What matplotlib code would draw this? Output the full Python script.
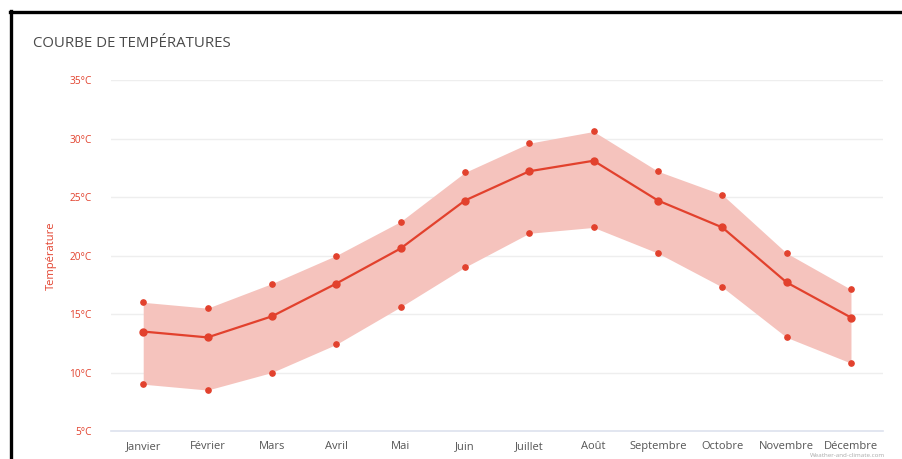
import matplotlib
matplotlib.use("Agg")
import matplotlib.pyplot as plt
from matplotlib.lines import Line2D

plt.rcParams["font.family"] = ["Open Sans", "DejaVu Sans"]

# données
mois = ["Janvier", "Février", "Mars", "Avril", "Mai", "Juin",
        "Juillet", "Août", "Septembre", "Octobre", "Novembre", "Décembre"]
temp_max = [16.0, 15.5, 17.6, 20.0, 22.9, 27.1, 29.6, 30.6, 27.2, 25.2, 20.2, 17.1]
temp_moy = [13.5, 13.0, 14.8, 17.6, 20.6, 24.7, 27.2, 28.1, 24.7, 22.4, 17.7, 14.7]
temp_min = [9.0, 8.5, 10.0, 12.4, 15.6, 19.0, 21.9, 22.4, 20.2, 17.3, 13.0, 10.8]
y_ticks = [5, 10, 15, 20, 25, 30, 35]

rouge = "#e2412d"
fond = "#f5c3bd"

fig = plt.figure(figsize=(9.02, 4.59), dpi=100)
ax = fig.add_axes([0.1231, 0.061, 0.856, 0.7647])

x = range(len(mois))
ax.fill_between(x, temp_min, temp_max, color=fond, lw=0, zorder=2)
ax.plot(x, temp_moy, color=rouge, lw=1.6, marker="o", ms=5, zorder=4)
ax.plot(x, temp_max, ls="none", color=rouge, marker="o", ms=3.8, zorder=4)
ax.plot(x, temp_min, ls="none", color=rouge, marker="o", ms=3.8, zorder=4)

ax.set_xlim(-0.5, 11.5)
ax.set_ylim(5, 35)
ax.set_yticks(y_ticks)
ax.set_yticklabels([f"{t}°C" for t in y_ticks], color=rouge, fontsize=7.3)
ax.set_xticks(list(x))
ax.set_xticklabels(mois, color="#555555", fontsize=8)
ax.tick_params(length=0, pad=14, axis="y")
ax.tick_params(length=0, pad=7, axis="x")

for t in y_ticks[1:]:
    ax.axhline(t, color="#eeeeee", lw=1, zorder=1)
for s in ["top", "right", "left"]:
    ax.spines[s].set_visible(False)
ax.spines["bottom"].set_color("#dde2ee")
ax.spines["bottom"].set_linewidth(1.2)

ax.set_ylabel("Température", color=rouge, fontsize=8)
ax.yaxis.set_label_coords(-0.07, 0.5)

fig.text(0.0366, 0.905, "COURBE DE TEMPÉRATURES", fontsize=10.8,
         color="#4a4a4a", va="center")
fig.text(0.94, 0.002, "Weather-and-climate.com", fontsize=4.5, color="#aaaaaa",
         ha="center", va="bottom")

# cadre noir en haut et à gauche
fig.add_artist(Line2D([0.011, 1.0], [0.974, 0.974], color="black", lw=2.4,
                      transform=fig.transFigure))
fig.add_artist(Line2D([0.0125, 0.0125], [0.0, 0.976], color="black", lw=2.4,
                      transform=fig.transFigure))

fig.savefig("out.png", dpi=100, facecolor="white")
